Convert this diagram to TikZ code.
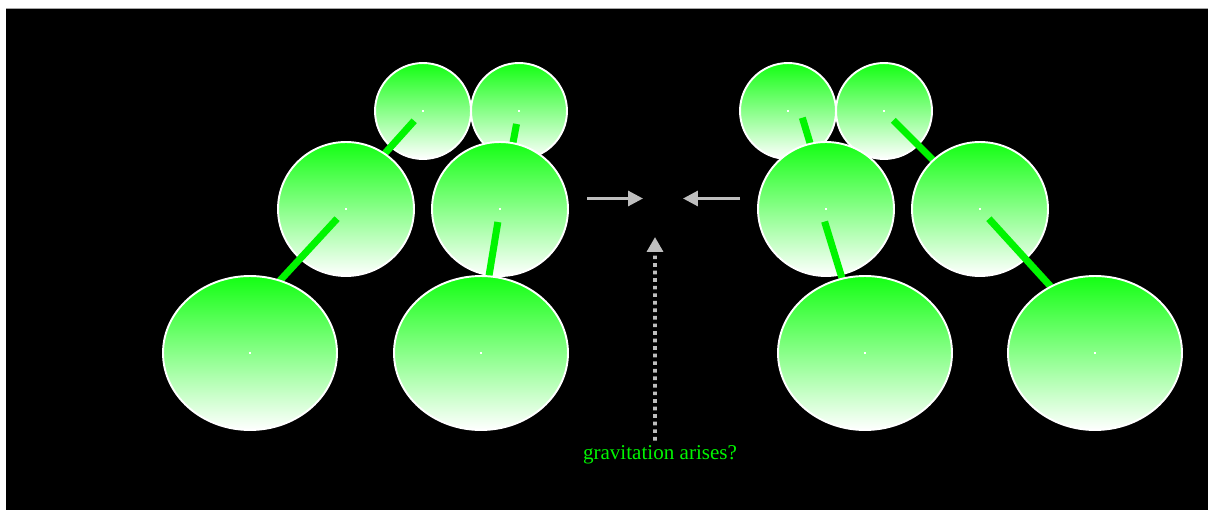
\documentclass[tikz,border=0pt]{standalone}
\usepackage{fontspec}
\setmainfont{Liberation Serif}
\usetikzlibrary{shapes.geometric,arrows.meta}
\definecolor{ballgreen}{RGB}{20,255,20}
\definecolor{linkgreen}{RGB}{0,245,0}
\definecolor{arrowgray}{RGB}{190,190,190}
\tikzset{ball/.style={ellipse,draw=white,line width=1.1pt,top color=ballgreen,middle color=ballgreen!38!white,bottom color=white,inner sep=0pt}}
\tikzset{ballsmall/.style={ball,minimum width=1.92cm,minimum height=1.92cm}}
\tikzset{ballmid/.style={ball,minimum width=2.72cm,minimum height=2.68cm}}
\tikzset{ballbig/.style={ball,minimum width=3.48cm,minimum height=3.08cm}}
\tikzset{link/.style={linkgreen,line width=4pt,shorten <=7.5pt}}
\tikzset{centerdot/.style={fill=white,minimum size=1.6pt,inner sep=0pt}}
\tikzset{pusharrow/.style={arrowgray,line width=1.7pt,-{Triangle[length=8.5pt,width=8.5pt]}}}

\begin{document}
\begin{tikzpicture}[x=0.02cm,y=-0.02cm]
\useasboundingbox (0,0) rectangle (1208,510);
\fill[white] (0,0) rectangle (1208,510);
\fill[black] (6,8) rectangle (1208,510);
\draw[gray!70,line width=0.6pt] (6,8.2) -- (1208,8.2);

% where each link runs to, hidden under the ball below it
\coordinate (e1) at (352,190);
\coordinate (e2) at (504,190);
\coordinate (e3) at (262,300);
\coordinate (e4) at (485,300);
\coordinate (e7) at (830,209);
\coordinate (e8) at (963,190);
\coordinate (e9) at (865,353);
\coordinate (e10) at (1063,300);

% Left group: top row
\node[ballsmall] (c1) at (423,111) {};
\node[ballsmall] (c2) at (519,111) {};
\draw[link] (c1.center) -- (e1);
\draw[link] (c2.center) -- (e2);

% Left group: middle row
\node[ballmid] (c3) at (346,209) {};
\node[ballmid] (c4) at (500,209) {};
\draw[link] (c3.center) -- (e3);
\draw[link] (c4.center) -- (e4);

% Left group: bottom row
\node[ballbig] (c5) at (250,353) {};
\node[ballbig] (c6) at (481,353) {};

% Right group: top row
\node[ballsmall] (c7) at (788,111) {};
\node[ballsmall] (c8) at (884,111) {};
\draw[link,shorten <=4pt] ([xshift=7pt]c7.center) -- (e7);
\draw[link] (c8.center) -- (e8);

% Right group: middle row
\node[ballmid] (c9) at (826,209) {};
\node[ballmid] (c10) at (980,209) {};
\draw[link] ([xshift=-3pt]c9.center) -- (e9);
\draw[link] (c10.center) -- (e10);

% Right group: bottom row
\node[ballbig] (c11) at (865,353) {};
\node[ballbig] (c12) at (1095,353) {};

% little white dots at the centres
\foreach \c in {c1,c2,c3,c4,c5,c6,c7,c8,c9,c10,c11,c12}
  \node[centerdot] at (\c.center) {};

% arrows pushing towards the middle
\coordinate (mid) at (663,198.5);
\coordinate (leftend) at (587,198.5);
\coordinate (rightend) at (740,198.5);
\draw[pusharrow] (leftend) -- ([xshift=-0.4cm]mid);
\draw[pusharrow] (rightend) -- ([xshift=0.4cm]mid);

% label and dotted arrow up to the middle
\node[text=linkgreen,font=\fontsize{12}{14}\selectfont] (label) at (660,455) {gravitation arises?};
\draw[arrowgray,line width=2.1pt,dash pattern=on 2.1pt off 2.2pt,-{Triangle[length=8.5pt,width=9pt]}]
  ([xshift=-0.1cm,yshift=-0.02cm]label.north) -- ([xshift=-0.16cm,yshift=-0.77cm]mid);
\end{tikzpicture}
\end{document}
